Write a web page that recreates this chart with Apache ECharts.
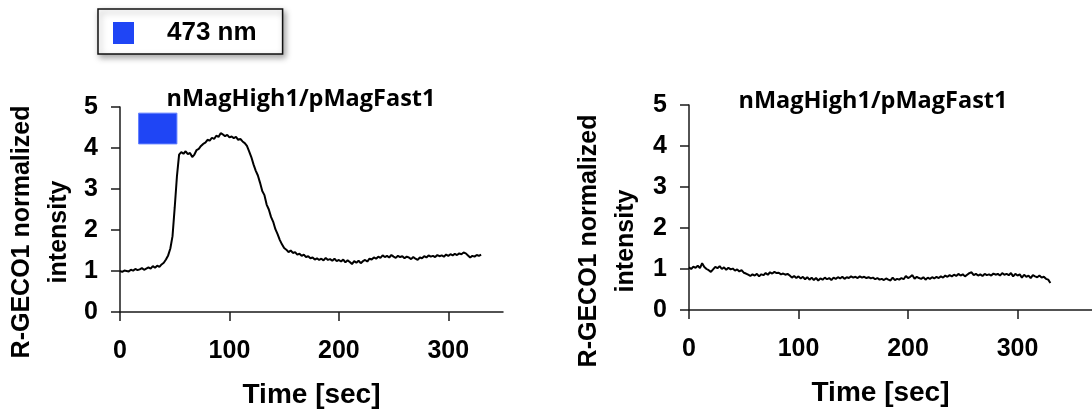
<!DOCTYPE html>
<html><head><meta charset="utf-8">
<script src="https://cdn.jsdelivr.net/npm/echarts@6/dist/echarts.min.js"></script>
<style>html,body{margin:0;padding:0;background:#fff}#c{width:1092px;height:414px}</style>
</head><body><div id="c"></div>
<script>
// Sampling times (sec)
const times = [
  0,2,4,6,8,10,12,14,16,18,
  20,22,24,26,28,30,32,34,36,38,
  40,42,44,46,48,50,52,54,56,58,
  60,62,64,66,68,70,72,74,76,78,
  80,82,84,86,88,90,92,94,96,98,
  100,102,104,106,108,110,112,114,116,118,
  120,122,124,126,128,130,132,134,136,138,
  140,142,144,146,148,150,152,154,156,158,
  160,162,164,166,168,170,172,174,176,178,
  180,182,184,186,188,190,192,194,196,198,
  200,202,204,206,208,210,212,214,216,218,
  220,222,224,226,228,230,232,234,236,238,
  240,242,244,246,248,250,252,254,256,258,
  260,262,264,266,268,270,272,274,276,278,
  280,282,284,286,288,290,292,294,296,298,
  300,302,304,306,308,310,312,314,316,318,
  320,322,324,326,328,330];
// Left panel: with 473 nm stimulation
const leftValues = [
  1.00,0.98,1.01,1.00,0.99,1.03,1.01,1.05,1.02,1.04,
  1.07,1.03,1.06,1.09,1.06,1.12,1.08,1.13,1.10,1.16,
  1.20,1.28,1.38,1.55,1.85,2.55,3.30,3.84,3.90,3.86,
  3.92,3.85,3.88,3.78,3.84,3.95,3.98,4.05,4.10,4.13,
  4.20,4.18,4.25,4.22,4.30,4.27,4.36,4.33,4.29,4.32,
  4.26,4.28,4.24,4.27,4.20,4.22,4.16,4.12,4.05,3.92,
  3.78,3.60,3.45,3.33,3.15,2.95,2.85,2.62,2.50,2.32,
  2.20,2.02,1.90,1.76,1.65,1.56,1.52,1.46,1.50,1.44,
  1.46,1.40,1.42,1.37,1.40,1.34,1.36,1.31,1.33,1.28,
  1.31,1.27,1.30,1.26,1.32,1.27,1.29,1.25,1.30,1.24,
  1.27,1.23,1.28,1.21,1.26,1.22,1.17,1.24,1.20,1.25,
  1.19,1.24,1.27,1.23,1.30,1.28,1.33,1.30,1.35,1.32,
  1.38,1.34,1.37,1.33,1.39,1.35,1.32,1.37,1.34,1.36,
  1.31,1.35,1.33,1.29,1.34,1.30,1.27,1.33,1.31,1.36,
  1.33,1.38,1.35,1.37,1.34,1.39,1.36,1.38,1.35,1.40,
  1.37,1.41,1.38,1.42,1.39,1.43,1.41,1.45,1.43,1.38,
  1.33,1.37,1.35,1.39,1.37,1.40];
// Right panel: no stimulation
const rightValues = [
  1.04,1.00,1.06,1.03,1.08,1.02,1.14,1.05,1.00,0.97,
  0.93,0.99,1.05,1.02,1.07,1.00,1.04,0.98,1.03,0.99,
  1.01,0.96,0.99,0.94,0.97,0.91,0.89,0.86,0.83,0.87,
  0.84,0.88,0.82,0.87,0.85,0.90,0.86,0.92,0.89,0.93,
  0.90,0.91,0.87,0.89,0.86,0.88,0.84,0.79,0.83,0.78,
  0.82,0.77,0.81,0.75,0.80,0.74,0.79,0.73,0.78,0.72,
  0.77,0.74,0.79,0.75,0.78,0.73,0.79,0.76,0.80,0.77,
  0.81,0.76,0.80,0.78,0.82,0.79,0.81,0.78,0.82,0.79,
  0.81,0.78,0.80,0.77,0.79,0.75,0.78,0.74,0.76,0.73,
  0.77,0.74,0.72,0.79,0.73,0.76,0.74,0.78,0.75,0.83,
  0.78,0.81,0.85,0.76,0.81,0.78,0.76,0.80,0.74,0.79,
  0.76,0.80,0.77,0.81,0.78,0.82,0.79,0.84,0.81,0.85,
  0.82,0.86,0.83,0.88,0.84,0.87,0.82,0.86,0.90,0.92,
  0.85,0.88,0.84,0.87,0.83,0.88,0.85,0.87,0.84,0.89,
  0.86,0.88,0.84,0.90,0.86,0.88,0.85,0.90,0.82,0.88,
  0.84,0.87,0.79,0.86,0.81,0.84,0.78,0.85,0.82,0.80,
  0.84,0.79,0.81,0.76,0.74,0.66];
// Stimulation window (sec) and its drawn band (intensity units)
const stimTime = [17, 52];
const stimBand = [4.1, 4.85];
const stimName = '473 nm';
const panelTitles = ['nMagHigh1/pMagFast1', 'nMagHigh1/pMagFast1'];
const xTicks = [0, 100, 200, 300];
const xName = 'Time [sec]';
const yName = 'R-GECO1 normalized\nintensity';

const BLUE = '#1f45f5';
const AX = '#1a1a1a';
const F = '"Liberation Sans", Arial, sans-serif';

function xAxis(gi, max, namePad) {
  return {
    type: 'value', gridIndex: gi, min: 0, max: max,
    axisLine: { show: true, lineStyle: { color: AX, width: 1.5 } },
    axisTick: { show: true, length: 9, lineStyle: { color: AX, width: 1.5 }, customValues: xTicks },
    axisLabel: { customValues: xTicks, margin: 27, color: '#000', fontFamily: F, fontWeight: 'bold', fontSize: 25 },
    splitLine: { show: false },
    name: xName, nameLocation: 'middle', nameGap: 69,
    nameTextStyle: { color: '#000', fontFamily: F, fontWeight: 'bold', fontSize: 28, padding: namePad }
  };
}
function yAxis(gi) {
  return {
    type: 'value', gridIndex: gi, min: 0, max: 5, interval: 1,
    axisLine: { show: true, lineStyle: { color: AX, width: 1.5 } },
    axisTick: { show: true, length: 9, lineStyle: { color: AX, width: 1.5 } },
    axisLabel: { margin: 22, color: '#000', fontFamily: F, fontWeight: 'bold', fontSize: 25, padding: [4, 0, 0, 0] },
    splitLine: { show: false }
  };
}

const chart = echarts.init(document.getElementById('c'), null, { renderer: 'canvas' });
chart.setOption({
  animation: false,
  backgroundColor: '#fff',
  title: [
    { text: panelTitles[0], left: 296, top: 82, textAlign: 'center',
      textStyle: { color: '#000', fontFamily: '"Open Sans", sans-serif', fontWeight: 'bold', fontSize: 23.5 } },
    { text: panelTitles[1], left: 868, top: 84, textAlign: 'center',
      textStyle: { color: '#000', fontFamily: '"Open Sans", sans-serif', fontWeight: 'bold', fontSize: 23.5 } }
  ],
  legend: {
    left: 98, top: 9, selectedMode: false,
    data: [{ name: stimName, icon: 'rect' }],
    itemWidth: 21, itemHeight: 22,
    padding: [11, 26, 8, 15],
    borderColor: '#111', borderWidth: 1.5, backgroundColor: '#fff',
    shadowBlur: 6, shadowColor: 'rgba(0,0,0,0.35)', shadowOffsetX: 2, shadowOffsetY: 3,
    textStyle: { color: '#000', fontFamily: F, fontWeight: 'bold', fontSize: 26, lineHeight: 22, padding: [0, 0, 0, 28] }
  },
  grid: [
    { left: 120, right: 589, top: 107, bottom: 102 },
    { left: 689, right: 0, top: 105, bottom: 104 }
  ],
  xAxis: [xAxis(0, 350, [0, 0, 0, 0]), xAxis(1, 368, [0, 20, 0, 0])],
  yAxis: [yAxis(0), yAxis(1)],
  graphic: [
    { type: 'text', x: 41, y: 232, rotation: Math.PI / 2,
      style: { text: yName, font: 'bold 25px ' + F, fill: '#000', align: 'center', verticalAlign: 'middle', lineHeight: 37 } },
    { type: 'text', x: 608, y: 241, rotation: Math.PI / 2,
      style: { text: yName, font: 'bold 25px ' + F, fill: '#000', align: 'center', verticalAlign: 'middle', lineHeight: 37 } }
  ],
  series: [
    { type: 'line', name: stimName, xAxisIndex: 0, yAxisIndex: 0, data: [],
      itemStyle: { color: BLUE }, lineStyle: { color: BLUE },
      markArea: { silent: true, itemStyle: { color: BLUE, opacity: 1, borderColor: '#5f7dff', borderWidth: 1 },
        data: [[{ coord: [stimTime[0], stimBand[0]] }, { coord: [stimTime[1], stimBand[1]] }]] } },
    { type: 'line', name: 'left', xAxisIndex: 0, yAxisIndex: 0, showSymbol: false,
      lineStyle: { color: '#000', width: 2 }, itemStyle: { color: '#000' },
      data: times.map((t, i) => [t, leftValues[i]]) },
    { type: 'line', name: 'right', xAxisIndex: 1, yAxisIndex: 1, showSymbol: false,
      lineStyle: { color: '#000', width: 2 }, itemStyle: { color: '#000' },
      data: times.map((t, i) => [t, rightValues[i]]) }
  ]
});
</script>
</body></html>
